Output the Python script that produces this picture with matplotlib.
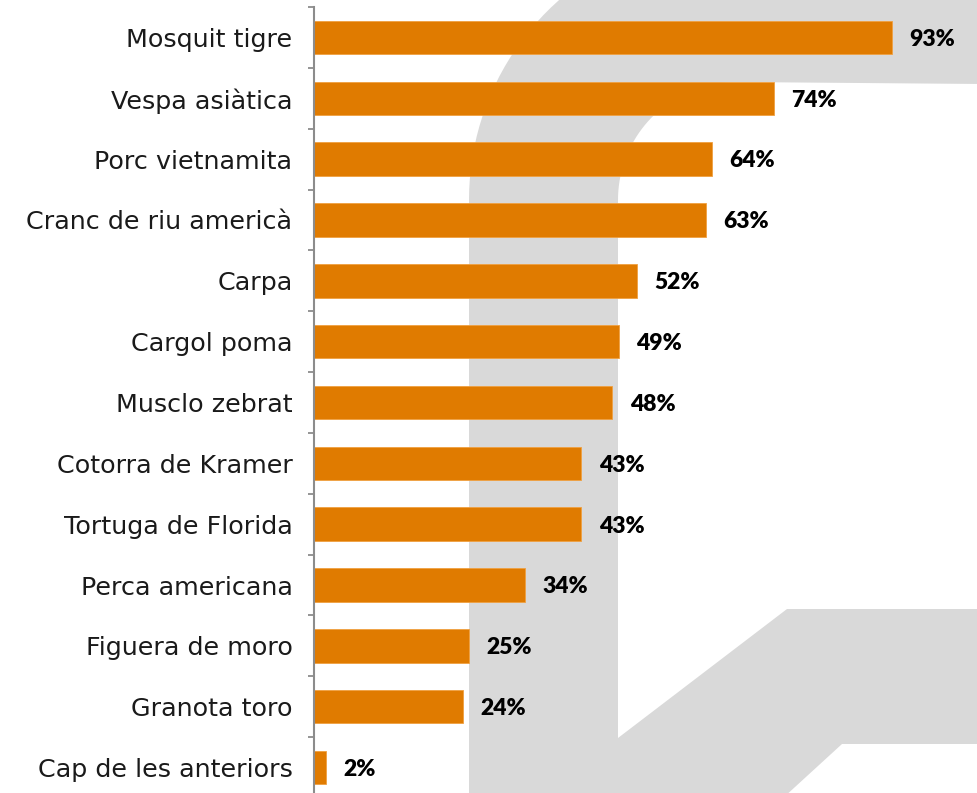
import numpy as np
import matplotlib
matplotlib.use('Agg')
import matplotlib.pyplot as plt
from matplotlib.path import Path
from matplotlib.patches import PathPatch

# Data
species = ['Mosquit tigre', 'Vespa asiàtica', 'Porc vietnamita', 'Cranc de riu americà',
           'Carpa', 'Cargol poma', 'Musclo zebrat', 'Cotorra de Kramer',
           'Tortuga de Florida', 'Perca americana', 'Figuera de moro',
           'Granota toro', 'Cap de les anteriors']
pct = [93, 74, 64, 63, 52, 49, 48, 43, 43, 34, 25, 24, 2]

W, H = 978, 793
fig = plt.figure(figsize=(W / 100, H / 100), dpi=100)


# Light gray decorative watermark behind the chart (pixel coords, top-left origin)
def arc(cx, cy, r, a0, a1, n=40):
    t = np.radians(np.linspace(a0, a1, n))
    return list(zip(cx + r * np.cos(t), cy - r * np.sin(t)))

pts = [(W + 5, -67), (736, -67)]
pts += arc(736, 200, 267, 90, 180)
pts += [(469, H + 5), (783, H + 5), (842, 744), (W + 5, 744), (W + 5, 609),
        (787, 609), (618, 738)]
pts += arc(736, 200, 118, 180, 90)
pts += [(W + 5, 84)]
pts = [(x, H - y) for x, y in pts]
wm = PathPatch(Path(pts, closed=False), facecolor='#d9d9d9', edgecolor='none',
               transform=None, zorder=-5)
fig.patches.append(wm)

ax = fig.add_axes([314 / W, -5 / H, 664 / W, 791 / H])
ax.set_zorder(2)
ax.patch.set_alpha(0)

y = np.arange(len(species))
ax.barh(y, pct, height=0.55, color='#e07b00', edgecolor='#f0a040', linewidth=0.6, zorder=2)

for yi, v in zip(y, pct):
    ax.text(v + 2.8, yi + 0.03, f'{v}%', va='center', ha='left', fontsize=16.5,
            fontweight='heavy', family='Lato', color='black')

ax.set_ylim(len(species) - 0.5, -0.5)
ax.set_xlim(0, 106.8)
ax.set_yticks(y)
ax.set_yticklabels(species, fontsize=18.3, family='DejaVu Sans', color='#1a1a1a')
ax.set_yticks(np.arange(len(species) + 1) - 0.5, minor=True)
ax.tick_params(axis='y', which='major', length=0, pad=15.5)
ax.tick_params(axis='y', which='minor', length=4.5, width=1.3, color='#8c8c8c')
ax.set_xticks([])
for s in ['top', 'right', 'bottom']:
    ax.spines[s].set_visible(False)
ax.spines['left'].set_color('#8c8c8c')
ax.spines['left'].set_linewidth(1.5)

fig.savefig('out.png', dpi=100)
